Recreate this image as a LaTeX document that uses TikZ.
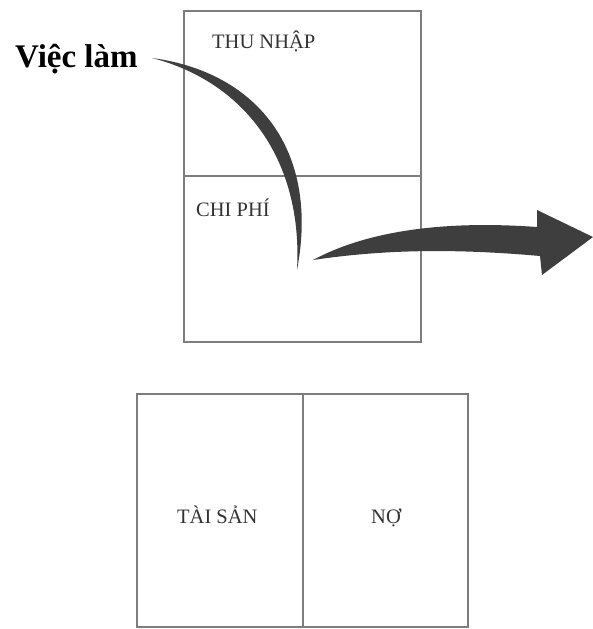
\documentclass[tikz,border=0pt]{standalone}
\usepackage{fontspec}
\setmainfont{Liberation Serif}
\begin{document}
\begin{tikzpicture}[x=1pt,y=-1pt,
  box/.style={draw={rgb,255:red,125;green,125;blue,125},line width=1.6pt},
  lbl/.style={font=\fontsize{20.5}{20.5}\selectfont,text={rgb,255:red,50;green,50;blue,50},inner sep=0pt,anchor=base west},
  swoosh/.style={fill={rgb,255:red,62;green,62;blue,62}}]
\useasboundingbox (0,0) rectangle (593,629);
% top box
\draw[box] (184,11) rectangle (421,342);
\draw[box] (184,176) -- (421,176);
% bottom box
\draw[box] (137,394) rectangle (468,627);
\draw[box] (303,394) -- (303,627);
% labels
\node[lbl] (thu) at (212,48) {THU NHẬP};
\node[lbl] (chi) at (196,216) {CHI PHÍ};
\node[lbl] (ts) at (177,523) {TÀI SẢN};
\node[lbl] (no) at (371,523) {NỢ};
\node[lbl,font=\bfseries\fontsize{33}{33}\selectfont,text=black] (vl) at (15,67) {Việc làm};
% swoosh curve
\fill[swoosh] (152,58) .. controls (257,72) and (320,150) .. (297,270)
  .. controls (303,160) and (245,82) .. cycle;
% big arrow
\fill[swoosh] (313,260) .. controls (365,232) and (440,220) .. (537,227)
  -- (537,210) -- (593,237) -- (542,275) -- (540,256)
  .. controls (450,248) and (380,250) .. cycle;
\end{tikzpicture}
\end{document}
